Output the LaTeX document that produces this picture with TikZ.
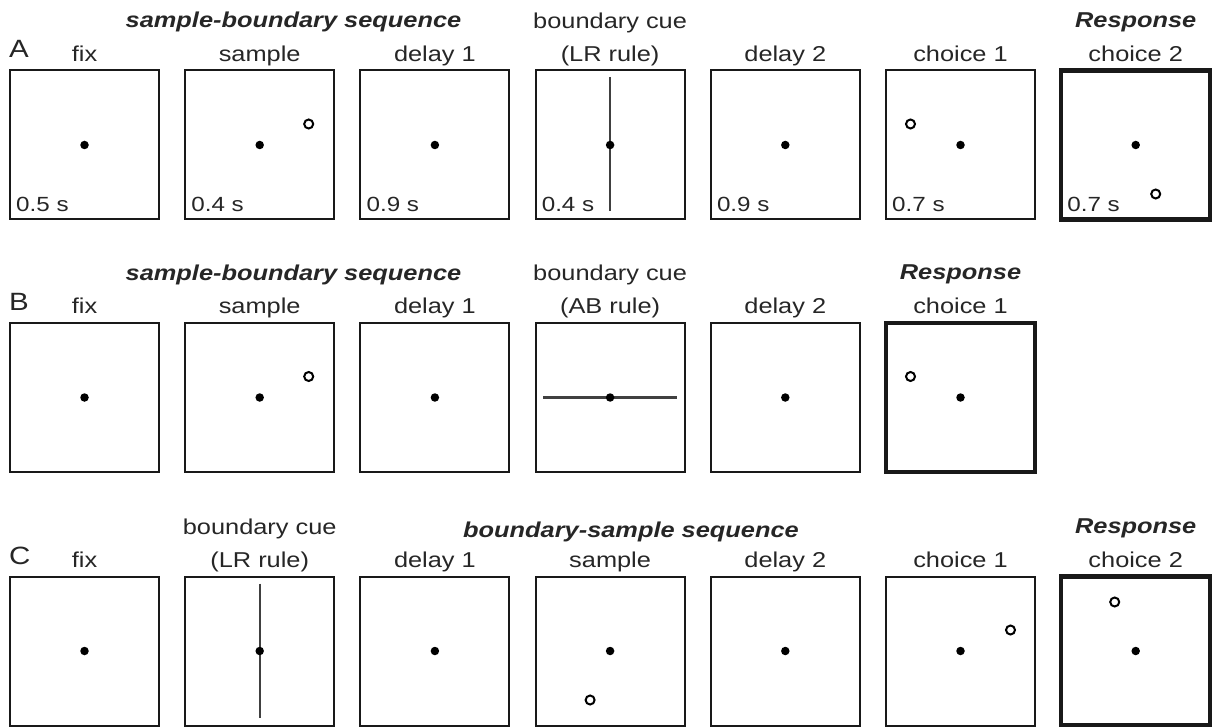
\documentclass[tikz,border=0pt]{standalone}
\usepackage{fontspec}
\setmainfont{Liberation Sans}[FakeStretch=1.18]
\usetikzlibrary{calc}
\begin{document}
\begin{tikzpicture}[x=1pt,y=-1pt,
  screen/.style={draw=black!90, line width=2pt, minimum width=149pt, minimum height=149pt, inner sep=0pt, outer sep=0pt},
  resp/.style={screen, line width=4.5pt},
  fixdot/.style={circle, fill=black, inner sep=0pt, minimum size=8.5pt},
  target/.style={circle, draw=black, line width=2pt, inner sep=0pt, minimum size=9pt},
  lbl/.style={font=\fontsize{21.5}{24}\selectfont, anchor=base, inner sep=0pt, text=black!85},
  seq/.style={font=\fontsize{21.5}{24}\selectfont\bfseries\itshape, anchor=base, inner sep=0pt, text=black!85},
  dur/.style={font=\fontsize{20.5}{24}\selectfont, anchor=base west, inner sep=0pt, text=black!85},
  panel/.style={font=\fontsize{25}{30}\selectfont, anchor=base west, inner sep=0pt, text=black!85},
  cue/.style={line width=2.2pt, draw=black!75}]
\useasboundingbox (0,0) rectangle (1218,727);

% ---------- Row A ----------
\node[panel] (pA) at (9,58) {A};
\node[seq] (sA) at (293.5,28) {sample-boundary sequence};
\node[screen] (A1) at (84.5,145) {};
\node[screen] (A2) at (259.7,145) {};
\node[screen] (A3) at (434.9,145) {};
\node[screen] (A4) at (610.1,145) {};
\node[screen] (A5) at (785.3,145) {};
\node[screen] (A6) at (960.5,145) {};
\node[resp]   (A7) at (1135.7,145) {};
\node[lbl] (lA1) at ([yshift=9pt]A1.north) {fix};
\node[lbl] (lA2) at ([yshift=9pt]A2.north) {sample};
\node[lbl] (lA3) at ([yshift=9pt]A3.north) {delay 1};
\node[lbl] (lA4) at ([yshift=9pt]A4.north) {(LR rule)};
\node[lbl] (uA4) at ([yshift=42pt]A4.north) {boundary cue};
\node[lbl] (lA5) at ([yshift=9pt]A5.north) {delay 2};
\node[lbl] (lA6) at ([yshift=9pt]A6.north) {choice 1};
\node[lbl] (lA7) at ([yshift=9pt]A7.north) {choice 2};
\node[seq] (uA7) at ([yshift=43pt]A7.north) {Response};
\node[dur] (dA1) at ([shift={(6,-8)}]A1.south west) {0.5 s};
\node[dur] (dA2) at ([shift={(6,-8)}]A2.south west) {0.4 s};
\node[dur] (dA3) at ([shift={(6,-8)}]A3.south west) {0.9 s};
\node[dur] (dA4) at ([shift={(6,-8)}]A4.south west) {0.4 s};
\node[dur] (dA5) at ([shift={(6,-8)}]A5.south west) {0.9 s};
\node[dur] (dA6) at ([shift={(6,-8)}]A6.south west) {0.7 s};
\node[dur] (dA7) at ([shift={(6,-8)}]A7.south west) {0.7 s};
\draw[cue] ([yshift=-7pt]A4.north) -- ([yshift=8pt]A4.south);
\foreach \b in {A1,A2,A3,A4,A5,A6,A7} { \node[fixdot] at (\b.center) {}; }
\node[target] (tA2) at ($(A2.center)+(49,-21)$) {};
\node[target] (tA6) at ($(A6.center)+(-50,-21)$) {};
\node[target] (tA7) at ($(A7.center)+(20,49)$) {};

% ---------- Row B ----------
\node[panel] (pB) at (9,310) {B};
\node[seq] (sB) at (293.5,281) {sample-boundary sequence};
\node[screen] (B1) at (84.5,397.5) {};
\node[screen] (B2) at (259.7,397.5) {};
\node[screen] (B3) at (434.9,397.5) {};
\node[screen] (B4) at (610.1,397.5) {};
\node[screen] (B5) at (785.3,397.5) {};
\node[resp]   (B6) at (960.5,397.5) {};
\node[lbl] (lB1) at ([yshift=9pt]B1.north) {fix};
\node[lbl] (lB2) at ([yshift=9pt]B2.north) {sample};
\node[lbl] (lB3) at ([yshift=9pt]B3.north) {delay 1};
\node[lbl] (lB4) at ([yshift=9pt]B4.north) {(AB rule)};
\node[lbl] (uB4) at ([yshift=42pt]B4.north) {boundary cue};
\node[lbl] (lB5) at ([yshift=9pt]B5.north) {delay 2};
\node[lbl] (lB6) at ([yshift=9pt]B6.north) {choice 1};
\node[seq] (uB6) at ([yshift=43pt]B6.north) {Response};
\draw[cue] ([xshift=7.5pt]B4.west) -- ([xshift=-7.5pt]B4.east);
\foreach \b in {B1,B2,B3,B4,B5,B6} { \node[fixdot] at (\b.center) {}; }
\node[target] (tB2) at ($(B2.center)+(49,-21)$) {};
\node[target] (tB6) at ($(B6.center)+(-50,-21)$) {};

% ---------- Row C ----------
\node[panel] (pC) at (9,564) {C};
\node[seq] (sC) at (631,537) {boundary-sample sequence};
\node[screen] (C1) at (84.5,651) {};
\node[screen] (C2) at (259.7,651) {};
\node[screen] (C3) at (434.9,651) {};
\node[screen] (C4) at (610.1,651) {};
\node[screen] (C5) at (785.3,651) {};
\node[screen] (C6) at (960.5,651) {};
\node[resp]   (C7) at (1135.7,651) {};
\node[lbl] (lC1) at ([yshift=9pt]C1.north) {fix};
\node[lbl] (lC2) at ([yshift=9pt]C2.north) {(LR rule)};
\node[lbl] (uC2) at ([yshift=42pt]C2.north) {boundary cue};
\node[lbl] (lC3) at ([yshift=9pt]C3.north) {delay 1};
\node[lbl] (lC4) at ([yshift=9pt]C4.north) {sample};
\node[lbl] (lC5) at ([yshift=9pt]C5.north) {delay 2};
\node[lbl] (lC6) at ([yshift=9pt]C6.north) {choice 1};
\node[lbl] (lC7) at ([yshift=9pt]C7.north) {choice 2};
\node[seq] (uC7) at ([yshift=43pt]C7.north) {Response};
\draw[cue] ([yshift=-7pt]C2.north) -- ([yshift=8pt]C2.south);
\foreach \b in {C1,C2,C3,C4,C5,C6,C7} { \node[fixdot] at (\b.center) {}; }
\node[target] (tC4) at ($(C4.center)+(-20,49)$) {};
\node[target] (tC6) at ($(C6.center)+(50,-21)$) {};
\node[target] (tC7) at ($(C7.center)+(-21,-49)$) {};
\end{tikzpicture}
\end{document}
